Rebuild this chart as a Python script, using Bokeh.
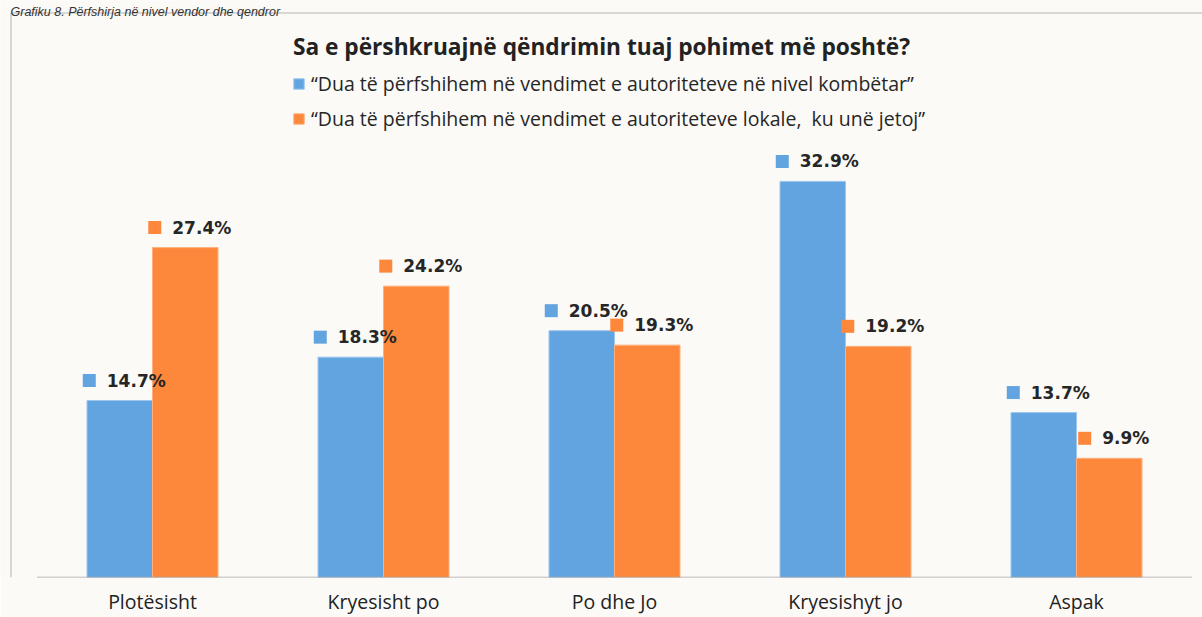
from bokeh.plotting import figure
from bokeh.models import Range1d, FixedTicker, Label, Legend, LegendItem, ColumnDataSource
from bokeh.core.properties import value
from bokeh.embed import file_html
from bokeh.resources import INLINE

# ---- data ----
categories = ["Plotësisht", "Kryesisht po", "Po dhe Jo", "Kryesishyt jo", "Aspak"]
national = [14.7, 18.3, 20.5, 32.9, 13.7]
local = [27.4, 24.2, 19.3, 19.2, 9.9]
series_names = [
    "\u201cDua të përfshihem në vendimet e autoriteteve në nivel kombëtar\u201d",
    "\u201cDua të përfshihem në vendimet e autoriteteve lokale,  ku unë jetoj\u201d",
]
title_text = "Sa e përshkruajnë qëndrimin tuaj pohimet më poshtë?"
caption_text = "Grafiku 8. Përfshirja në nivel vendor dhe qendror"

BLUE = "#62A4E0"
ORANGE = "#FD873A"
BLUE_EDGE = "#9CC6EE"
ORANGE_EDGE = "#FDB07E"
BG = "#FBFAF7"

# ---- geometry (page pixels) ----
W, H = 1202, 617
X0_PX, CAT_PX = 152.0, 231.0      # page x of first category centre, px per category
BASE_PY, PX_PCT = 577.0, 12.04    # page y of baseline, px per percent


def px2x(px):
    return (px - X0_PX) / CAT_PX


def py2y(py):
    return (BASE_PY - py) / PX_PCT


bar_w = 65.5 / CAT_PX
n = len(categories)
idx = list(range(n))

p = figure(width=W, height=H, output_backend="svg", toolbar_location=None,
           x_range=Range1d(px2x(0), px2x(W)),
           y_range=Range1d(0, py2y(0)),
           min_border_left=0, min_border_right=0, min_border_top=0,
           min_border_bottom=int(H - BASE_PY),
           y_axis_location=None)
p.background_fill_color = BG
p.border_fill_color = BG
p.outline_line_color = None
p.grid.visible = False

src = ColumnDataSource(dict(
    xb=[i - bar_w / 2 for i in idx], xo=[i + bar_w / 2 for i in idx],
    nat=national, loc=local,
))
rb = p.vbar(x="xb", top="nat", width=bar_w, bottom=0, source=src,
            fill_color=BLUE, line_color=BLUE_EDGE, line_width=1)
ro = p.vbar(x="xo", top="loc", width=bar_w, bottom=0, source=src,
            fill_color=ORANGE, line_color=ORANGE_EDGE, line_width=1)

# baseline
p.segment(x0=[-0.5], x1=[n - 0.5], y0=[0], y1=[0], line_color="#A6A6A6", line_width=1.5)

# frame box (left + top edges)
p.segment(x0=[px2x(10.5)], x1=[px2x(10.5)], y0=[py2y(12.5)], y1=[0], line_color="#B4B4B4", line_width=1)
p.segment(x0=[px2x(10.5)], x1=[px2x(W)], y0=[py2y(12.5)], y1=[py2y(12.5)], line_color="#B4B4B4", line_width=1)

# caption above the box
p.text(x=[px2x(10)], y=[py2y(11.5)], text=[caption_text], text_align="left",
       text_baseline="alphabetic", text_font=value("Liberation Sans"), text_font_style="italic",
       text_font_size="12.5px", text_color="#333333")

# value labels with small coloured squares
FS = 17


def text_w(s):
    w = 0.0
    for ch in s:
        w += 0.38 if ch == "." else (1.0 if ch == "%" else 0.696)
    return w * FS


for vals, cx, col in ((national, src.data["xb"], BLUE), (local, src.data["xo"], ORANGE)):
    labels = [f"{v:.1f}%" for v in vals]
    tx = [c + 16.5 / CAT_PX for c in cx]
    ty = [v + 20 / PX_PCT for v in vals]
    sx = [c + (16.5 - text_w(s) / 2 - 11 - 6.5) / CAT_PX for c, s in zip(cx, labels)]
    p.text(x=tx, y=ty, text=labels, text_align="center", text_baseline="middle",
           text_font=value("DejaVu Sans"), text_font_style="bold",
           text_font_size=f"{FS}px", text_color="#262626")
    p.rect(x=sx, y=ty, width=13, height=13, width_units="screen", height_units="screen",
           fill_color=col, line_color=None)

# title
p.add_layout(Label(x=px2x(601), y=py2y(46), text=title_text, text_align="center",
                   text_baseline="alphabetic", text_font="Open Sans", text_font_style="bold",
                   text_font_size="22.7px", text_color="#222222"))

# legend
legend = Legend(items=[LegendItem(label=series_names[0], renderers=[rb]),
                       LegendItem(label=series_names[1], renderers=[ro])],
                location=(292, 445), orientation="vertical",
                glyph_width=13, glyph_height=13, label_standoff=6,
                label_height=20, spacing=8, padding=0, margin=0,
                border_line_color=None, background_fill_alpha=0,
                label_text_font="Open Sans", label_text_font_size="19.5px",
                label_text_color="#262626")
p.add_layout(legend)

# x axis
p.xaxis.ticker = FixedTicker(ticks=idx)
p.xaxis.major_label_overrides = {i: c for i, c in enumerate(categories)}
p.xaxis.axis_line_color = None
p.xaxis.major_tick_line_color = None
p.xaxis.minor_tick_line_color = None
p.xaxis.major_tick_out = 0
p.xaxis.major_tick_in = 0
p.xaxis.major_label_standoff = 10
p.xaxis.major_label_text_font = "Open Sans"
p.xaxis.major_label_text_font_size = "19.5px"
p.xaxis.major_label_text_color = "#222222"

open("out.html", "w").write(file_html(p, INLINE))
